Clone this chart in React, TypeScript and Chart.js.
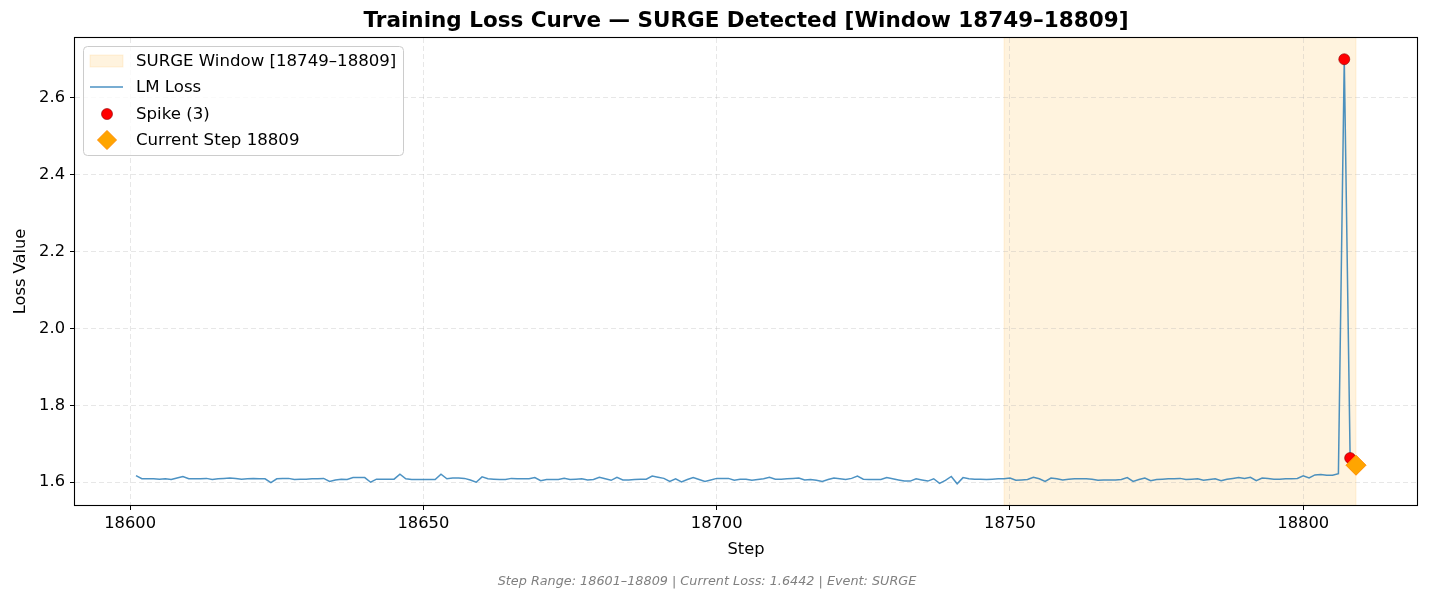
import { useEffect, useRef } from "react";
import { Chart, registerables } from "chart.js";

Chart.register(...registerables);

const FONT = "'DejaVu Sans', sans-serif";

const firstStep = 18601;
const lossValues = [
  1.617, 1.609, 1.609, 1.609, 1.608, 1.609, 1.607, 1.611, 1.615, 1.609,
  1.609, 1.609, 1.61, 1.607, 1.609, 1.61, 1.611, 1.61, 1.608, 1.609,
  1.61, 1.609, 1.609, 1.599, 1.609, 1.61, 1.61, 1.607, 1.608, 1.608,
  1.609, 1.609, 1.61, 1.602, 1.606, 1.608, 1.607, 1.612, 1.612, 1.612,
  1.6, 1.608, 1.608, 1.608, 1.608, 1.621, 1.609, 1.607, 1.607, 1.607,
  1.607, 1.607, 1.621, 1.609, 1.611, 1.611, 1.61, 1.606, 1.6, 1.614,
  1.609, 1.608, 1.607, 1.607, 1.61, 1.609, 1.609, 1.609, 1.612, 1.604,
  1.607, 1.607, 1.607, 1.61, 1.607, 1.608, 1.609, 1.606, 1.607, 1.613,
  1.609, 1.605, 1.613, 1.606, 1.606, 1.607, 1.608, 1.608, 1.616, 1.613,
  1.61, 1.602, 1.609, 1.601, 1.607, 1.612, 1.607, 1.602, 1.606, 1.61,
  1.61, 1.61, 1.605, 1.608, 1.608, 1.605, 1.607, 1.609, 1.613, 1.608,
  1.608, 1.609, 1.61, 1.611, 1.606, 1.607, 1.605, 1.602, 1.607, 1.611,
  1.609, 1.607, 1.61, 1.616, 1.608, 1.607, 1.607, 1.607, 1.612, 1.609,
  1.606, 1.603, 1.603, 1.609, 1.606, 1.603, 1.609, 1.597, 1.605, 1.615,
  1.596, 1.612, 1.609, 1.608, 1.608, 1.607, 1.608, 1.609, 1.609, 1.611,
  1.605, 1.606, 1.607, 1.613, 1.609, 1.602, 1.611, 1.609, 1.606, 1.608,
  1.609, 1.609, 1.609, 1.608, 1.605, 1.606, 1.606, 1.606, 1.607, 1.612,
  1.602, 1.607, 1.611, 1.604, 1.607, 1.608, 1.609, 1.609, 1.61, 1.607,
  1.608, 1.609, 1.605, 1.607, 1.609, 1.604, 1.608, 1.61, 1.612, 1.61,
  1.613, 1.604, 1.611, 1.61, 1.608, 1.608, 1.609, 1.609, 1.61, 1.617,
  1.611, 1.619, 1.62, 1.618, 1.618, 1.622, 2.7, 1.663, 1.6442,
];
const steps = lossValues.map((_, i) => firstStep + i);

const spikeSteps = [18807, 18808, 18809];
const currentStep = 18809;
const currentLoss = 1.6442;
const windowStart = 18749;
const windowEnd = 18809;

const xTicks = [18600, 18650, 18700, 18750, 18800];
const yTicks = [1.6, 1.8, 2.0, 2.2, 2.4, 2.6];

const titleText = "Training Loss Curve \u2014 SURGE Detected [Window 18749\u201318809]";
const footerText = "Step Range: 18601\u201318809 | Current Loss: 1.6442 | Event: SURGE";
const legendLabels = [
  "SURGE Window [18749\u201318809]",
  "LM Loss",
  "Spike (3)",
  "Current Step 18809",
];

const LINE_COLOR = "rgba(31,119,180,0.8)";
const SPAN_COLOR = "rgba(255,165,0,0.13)";
const GRID_COLOR = "rgba(176,176,176,0.3)";
const TEXT_SIZE = 16.3;

// matplotlib-style 5% margins
const xPad = (steps[steps.length - 1] - steps[0]) * 0.05;
const yMinData = Math.min(...lossValues);
const yMaxData = Math.max(...lossValues);
const yPad = (yMaxData - yMinData) * 0.05;

const overlay = {
  id: "overlay",
  beforeDraw(chart: Chart) {
    const { ctx, chartArea, scales } = chart;
    ctx.save();
    ctx.fillStyle = "#ffffff";
    ctx.fillRect(0, 0, chart.width, chart.height);
    const x0 = scales.x.getPixelForValue(windowStart);
    const x1 = scales.x.getPixelForValue(windowEnd);
    ctx.fillStyle = SPAN_COLOR;
    ctx.fillRect(x0, chartArea.top, x1 - x0, chartArea.bottom - chartArea.top);
    ctx.strokeStyle = SPAN_COLOR;
    ctx.lineWidth = 1;
    ctx.beginPath();
    ctx.moveTo(x0, chartArea.top);
    ctx.lineTo(x0, chartArea.bottom);
    ctx.moveTo(x1, chartArea.top);
    ctx.lineTo(x1, chartArea.bottom);
    ctx.stroke();
    ctx.restore();
  },
  afterDraw(chart: Chart) {
    const { ctx, chartArea } = chart;
    ctx.save();
    // frame
    ctx.strokeStyle = "#000000";
    ctx.lineWidth = 1.1;
    ctx.strokeRect(
      Math.round(chartArea.left) - 0.5,
      Math.round(chartArea.top) - 0.5,
      Math.round(chartArea.right - chartArea.left) + 1,
      Math.round(chartArea.bottom - chartArea.top) + 1
    );

    // title
    ctx.fillStyle = "#000000";
    ctx.font = `bold 21.5px ${FONT}`;
    ctx.textAlign = "center";
    ctx.textBaseline = "middle";
    ctx.fillText(titleText, (chartArea.left + chartArea.right) / 2, 21);

    // footer
    ctx.fillStyle = "#808080";
    ctx.font = `italic 12.8px ${FONT}`;
    ctx.fillText(footerText, 707, 582);

    // legend
    const lx = 83;
    const ly = 46;
    const lw = 320;
    const lh = 109;
    ctx.fillStyle = "rgba(255,255,255,0.8)";
    ctx.strokeStyle = "#cccccc";
    ctx.lineWidth = 1;
    ctx.beginPath();
    ctx.roundRect(lx + 0.5, ly + 0.5, lw, lh, 4);
    ctx.fill();
    ctx.stroke();

    const rowY = [61, 87, 114, 140];
    const hx0 = 90;
    const hx1 = 123;
    const hcx = 107;
    // span patch
    ctx.fillStyle = SPAN_COLOR;
    ctx.fillRect(hx0, rowY[0] - 6, hx1 - hx0, 12);
    ctx.strokeStyle = SPAN_COLOR;
    ctx.strokeRect(hx0, rowY[0] - 6, hx1 - hx0, 12);
    // line
    ctx.strokeStyle = LINE_COLOR;
    ctx.lineWidth = 1.5;
    ctx.beginPath();
    ctx.moveTo(hx0, rowY[1]);
    ctx.lineTo(hx1, rowY[1]);
    ctx.stroke();
    // spike dot
    ctx.fillStyle = "#ff0000";
    ctx.strokeStyle = "#8b0000";
    ctx.lineWidth = 0.6;
    ctx.beginPath();
    ctx.arc(hcx, rowY[2], 5.5, 0, Math.PI * 2);
    ctx.fill();
    ctx.stroke();
    // diamond
    ctx.fillStyle = "#ffa500";
    ctx.strokeStyle = "#ff8c00";
    ctx.lineWidth = 1;
    ctx.beginPath();
    ctx.moveTo(hcx, rowY[3] - 9.5);
    ctx.lineTo(hcx + 9.5, rowY[3]);
    ctx.lineTo(hcx, rowY[3] + 9.5);
    ctx.lineTo(hcx - 9.5, rowY[3]);
    ctx.closePath();
    ctx.fill();
    ctx.stroke();

    ctx.fillStyle = "#000000";
    ctx.font = `${TEXT_SIZE + 0.3}px ${FONT}`;
    ctx.textAlign = "left";
    ctx.textBaseline = "middle";
    legendLabels.forEach((t, i) => ctx.fillText(t, 136, rowY[i] + 1));
    ctx.restore();
  },
};

export default function App() {
  const canvasRef = useRef<HTMLCanvasElement | null>(null);

  useEffect(() => {
    document.body.style.margin = "0";
    if (!canvasRef.current) return;
    const lossPoints = steps.map((s, i) => ({ x: s, y: lossValues[i] }));
    const spikePoints = spikeSteps.map((s) => ({ x: s, y: lossValues[s - firstStep] }));

    const chart = new Chart(canvasRef.current, {
      type: "scatter",
      data: {
        datasets: [
          {
            label: "LM Loss",
            data: lossPoints,
            showLine: true,
            borderColor: LINE_COLOR,
            borderWidth: 1.5,
            pointRadius: 0,
            tension: 0,
            order: 3,
          },
          {
            label: "Spike (3)",
            data: spikePoints,
            backgroundColor: "#ff0000",
            borderColor: "#8b0000",
            borderWidth: 0.6,
            pointRadius: 5.5,
            order: 2,
          },
          {
            label: "Current Step 18809",
            data: [{ x: currentStep, y: currentLoss }],
            pointStyle: "rectRot",
            backgroundColor: "#ffa500",
            borderColor: "#ff8c00",
            borderWidth: 1,
            pointRadius: 10,
            order: 1,
          },
        ],
      },
      options: {
        animation: false,
        responsive: false,
        devicePixelRatio: 1,
        layout: { padding: { top: 38, right: 12, left: 0, bottom: 0 } },
        plugins: {
          legend: { display: false },
          tooltip: { enabled: false },
          title: { display: false },
        },
        scales: {
          x: {
            type: "linear",
            min: steps[0] - xPad,
            max: steps[steps.length - 1] + xPad,
            afterBuildTicks: (scale: any) => {
              scale.ticks = xTicks.map((v) => ({ value: v }));
            },
            afterFit: (scale: any) => {
              scale.height = 97;
            },
            grid: {
              color: GRID_COLOR,
              lineWidth: 1,
              drawTicks: true,
              tickLength: 5,
              tickColor: "#000000",
              tickWidth: 1,
              tickBorderDash: [],
            },
            border: { display: false, dash: [5, 3] },
            ticks: {
              color: "#000000",
              font: { family: FONT, size: TEXT_SIZE },
              padding: 4,
              maxRotation: 0,
              callback: (v: any) => String(v),
            },
            title: {
              display: true,
              text: "Step",
              color: "#000000",
              font: { family: FONT, size: TEXT_SIZE },
              padding: { bottom: 42 },
            },
          },
          y: {
            type: "linear",
            min: yMinData - yPad,
            max: yMaxData + yPad,
            afterBuildTicks: (scale: any) => {
              scale.ticks = yTicks.map((v) => ({ value: v }));
            },
            afterFit: (scale: any) => {
              scale.width = 75;
            },
            grid: {
              color: GRID_COLOR,
              lineWidth: 1,
              drawTicks: true,
              tickLength: 5,
              tickColor: "#000000",
              tickWidth: 1,
              tickBorderDash: [],
            },
            border: { display: false, dash: [5, 3] },
            ticks: {
              color: "#000000",
              font: { family: FONT, size: TEXT_SIZE },
              padding: 5,
              callback: (v: any) => Number(v).toFixed(1),
            },
            title: {
              display: true,
              text: "Loss Value",
              color: "#000000",
              font: { family: FONT, size: TEXT_SIZE },
              padding: { top: 11 },
            },
          },
        },
      },
      plugins: [overlay],
    });

    return () => {
      chart.destroy();
    };
  }, []);

  return (
    <div style={{ width: 1429, height: 602 }}>
      <canvas ref={canvasRef} width={1429} height={602} style={{ width: 1429, height: 602 }} />
    </div>
  );
}
